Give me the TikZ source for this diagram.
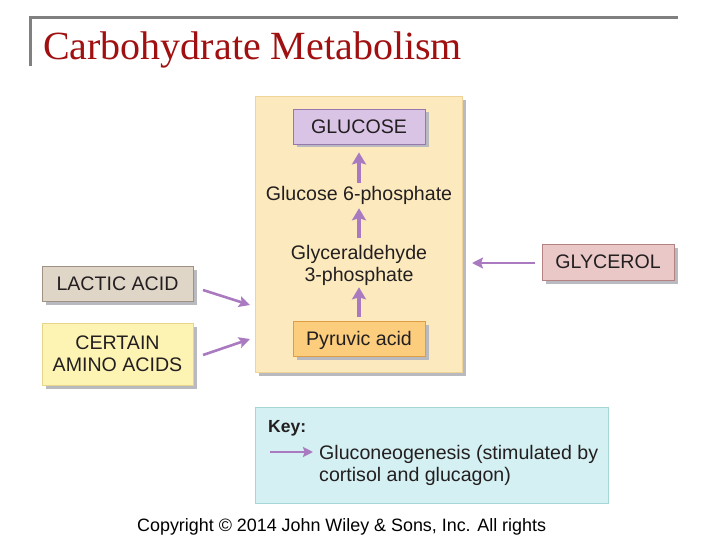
\documentclass[tikz,border=0pt]{standalone}
\usepackage{fontspec}
\setmainfont{Liberation Sans}
\newfontfamily\titlefont{Liberation Serif}
\usetikzlibrary{arrows.meta,shadows,positioning}
\definecolor{titlered}{RGB}{160,16,16}
\definecolor{framegray}{RGB}{128,128,128}
\definecolor{mainfill}{RGB}{252,234,190}
\definecolor{mainedge}{RGB}{238,212,150}
\definecolor{glufill}{RGB}{217,196,230}
\definecolor{gluedge}{RGB}{150,120,172}
\definecolor{pyrfill}{RGB}{251,205,125}
\definecolor{pyredge}{RGB}{222,158,70}
\definecolor{lacfill}{RGB}{224,214,200}
\definecolor{lacedge}{RGB}{160,145,130}
\definecolor{amifill}{RGB}{253,244,180}
\definecolor{amiedge}{RGB}{230,214,140}
\definecolor{glyfill}{RGB}{234,200,200}
\definecolor{glyedge}{RGB}{180,130,130}
\definecolor{keyfill}{RGB}{212,240,242}
\definecolor{keyedge}{RGB}{165,215,215}
\definecolor{arrowpurple}{RGB}{170,122,192}
\definecolor{inktext}{RGB}{35,31,32}
\definecolor{shadowgray}{RGB}{185,185,192}
\tikzset{
  shadowed/.style={drop shadow={shadow xshift=3.5pt,shadow yshift=-3.5pt,fill=shadowgray,opacity=1}},
  box/.style={shadowed,draw,line width=0.8pt,inner sep=0pt,align=center,font=\fontsize{19.6}{22.5}\selectfont,text=inktext},
  lowtext/.style={text height=14pt,text depth=-3pt},
  lbl/.style={inner sep=1pt,align=center,font=\fontsize{19.6}{22}\selectfont,text=inktext},
  flow/.style={draw=arrowpurple,line width=4pt,-{Stealth[length=12pt,width=14pt,inset=2pt]}},
  sideflow/.style={draw=arrowpurple,line width=2.6pt,-{Stealth[length=11pt,width=11pt,inset=2pt]}},
  keyflow/.style={draw=arrowpurple,line width=2.2pt,-{Stealth[length=10pt,width=10pt,inset=1.5pt]}},
}
\begin{document}
\begin{tikzpicture}[x=1pt,y=-1pt]
\useasboundingbox (0,0) rectangle (720,540);
% title frame
\draw[framegray,line width=3pt] (30,66) -- (30,18) -- (678,18);
\node[anchor=base west,inner sep=0pt,text=titlered,font=\titlefont\fontsize{40}{44}\selectfont] (title) at (43,60) {Carbohydrate Metabolism};
% main panel
\node[shadowed,draw=mainedge,fill=mainfill,line width=1pt,minimum width=207pt,minimum height=275pt,inner sep=0pt] (main) at (358.5,234.5) {};
\node[box,lowtext,draw=gluedge,fill=glufill,minimum width=132pt,minimum height=35pt] (glucose) at (359,126.5) {GLUCOSE};
\node[lbl,anchor=base] (g6p) at (359,201) {Glucose 6-phosphate};
\node[lbl] (g3p) at (359,265) {Glyceraldehyde\\3-phosphate};
\node[box,lowtext,draw=pyredge,fill=pyrfill,minimum width=132pt,minimum height=35pt] (pyr) at (359,338.5) {Pyruvic acid};
\draw[flow,shorten >=8pt,shorten <=3pt] (g6p.north) -- (glucose.south);
\draw[flow,shorten >=2pt,shorten <=6pt] (g3p.north) -- (g6p.south);
\draw[flow,shorten >=1pt,shorten <=4pt] (pyr.north) -- (g3p.south);
% sources
\node[box,draw=lacedge,fill=lacfill,minimum width=151pt,minimum height=35pt] (lactic) at (117.5,283.5) {LACTIC ACID};
\node[box,draw=amiedge,fill=amifill,minimum width=151pt,minimum height=62pt] (amino) at (117.5,354) {CERTAIN\\AMINO ACIDS};
\node[box,draw=glyedge,fill=glyfill,minimum width=132pt,minimum height=36pt] (glycerol) at (608,262) {GLYCEROL};
\coordinate (lacS) at (203,290);
\coordinate (lacE) at (250,305);
\coordinate (amiS) at (203,355);
\coordinate (amiE) at (250,339);
\coordinate (glyS) at (535,263);
\coordinate (glyE) at (472,263);
\draw[sideflow] (lacS) -- (lacE);
\draw[sideflow] (amiS) -- (amiE);
\draw[sideflow] (glyS) -- (glyE);
% key
\node[draw=keyedge,fill=keyfill,line width=1pt,minimum width=353pt,minimum height=96pt,inner sep=0pt] (key) at (431.5,455) {};
\node[anchor=west,inner sep=0pt,text=inktext,font=\bfseries\fontsize{17.5}{21}\selectfont] (keylbl) at (268,428) {Key:};
\node[anchor=west,inner sep=0pt,align=left,text=inktext,font=\fontsize{19.6}{22}\selectfont] (keytxt) at (319,465) {Gluconeogenesis (stimulated by\\cortisol and glucagon)};
\coordinate (keyS) at (270,452);
\coordinate (keyE) at (313,452);
\draw[keyflow] (keyS) -- (keyE);
% copyright
\node[anchor=base west,inner sep=0pt,font=\fontsize{17.9}{21}\selectfont] (copy) at (137,531) {Copyright \textcopyright{} 2014 John Wiley \& Sons, Inc. All rights};
\end{tikzpicture}
\end{document}
